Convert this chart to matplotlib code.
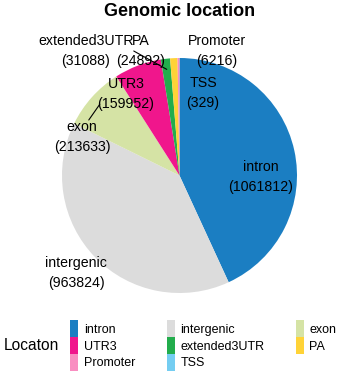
import numpy as np
import matplotlib.pyplot as plt
from matplotlib.patches import Patch

plt.rcParams['font.family'] = ['Liberation Sans', 'DejaVu Sans']

# data
categories = ["intron", "intergenic", "exon", "UTR3", "extended3UTR", "PA", "Promoter", "TSS"]
counts = [1061812, 963824, 213633, 159952, 31088, 24892, 6216, 329]
colors = ["#1B7EC2", "#DCDCDC", "#D5E3A5", "#F0168C", "#22AD4C", "#FFD337", "#F98EC1", "#74CDF1"]

# where the repelled labels ended up (pixels, top-left origin)
label_xy = {
    "intron": (261, 177),
    "intergenic": (76, 273),
    "exon": (82, 137),
    "UTR3": (126, 94),
    "extended3UTR": (86, 51),
    "PA": (141, 51),
    "Promoter": (217, 51),
    "TSS": (203, 93),
}
with_segment = {"exon": (0.62, 1.0), "extended3UTR": (1.0, 0.5)}

W, H = 337, 381
cx, cy, R = 179.5, H - 175.5, 117.5
label_fs = 10.2

fig = plt.figure(figsize=(W / 100, H / 100), dpi=100)
ax = fig.add_axes([0, 0, 1, 1])
ax.pie(counts, colors=colors, startangle=90, counterclock=False,
       center=(cx, cy), radius=R, wedgeprops=dict(linewidth=0))
ax.set_xlim(0, W)
ax.set_ylim(0, H)
ax.set_aspect('equal')
ax.axis('off')

# mid angle of each slice (clockwise from top)
frac = np.array(counts) / sum(counts)
mid = np.cumsum(frac) - frac / 2
theta = 2 * np.pi * mid

for i, cat in enumerate(categories):
    lx, ly = label_xy[cat]
    txt = f"{cat}\n({counts[i]})"
    if cat in with_segment:
        px = cx + 0.91 * R * np.sin(theta[i])
        py = cy + 0.91 * R * np.cos(theta[i])
        ax.annotate(txt, xy=(px, py), xytext=(lx, H - ly),
                    ha='center', va='center', fontsize=label_fs, linespacing=1.55,
                    arrowprops=dict(arrowstyle='-', lw=0.8, color='black',
                                    relpos=with_segment[cat], shrinkA=0, shrinkB=0,
                                    patchA=None))
    else:
        ax.text(lx, H - ly, txt, ha='center', va='center',
                fontsize=label_fs, linespacing=1.55)

fig.text(180 / W, 1 - 11 / H, "Genomic location", ha='center', va='center',
         fontsize=13, fontweight='bold')

# legend filled row by row like ggplot -> reorder for column filling
order = [0, 3, 6, 1, 4, 7, 2, 5]
handles = [Patch(facecolor=colors[i], edgecolor='none') for i in order]
labels = [categories[i] for i in order]
fig.legend(handles, labels, ncol=3, loc='upper left',
           bbox_to_anchor=(64 / W, 1 - 314 / H), frameon=False, borderpad=0,
           handlelength=0.64, handleheight=1.7, handletextpad=0.46,
           columnspacing=2.5, labelspacing=0.0, fontsize=9)
fig.text(4 / W, 1 - 346 / H, "Locaton", ha='left', va='center', fontsize=11.2)

fig.savefig("out.png", dpi=100)
